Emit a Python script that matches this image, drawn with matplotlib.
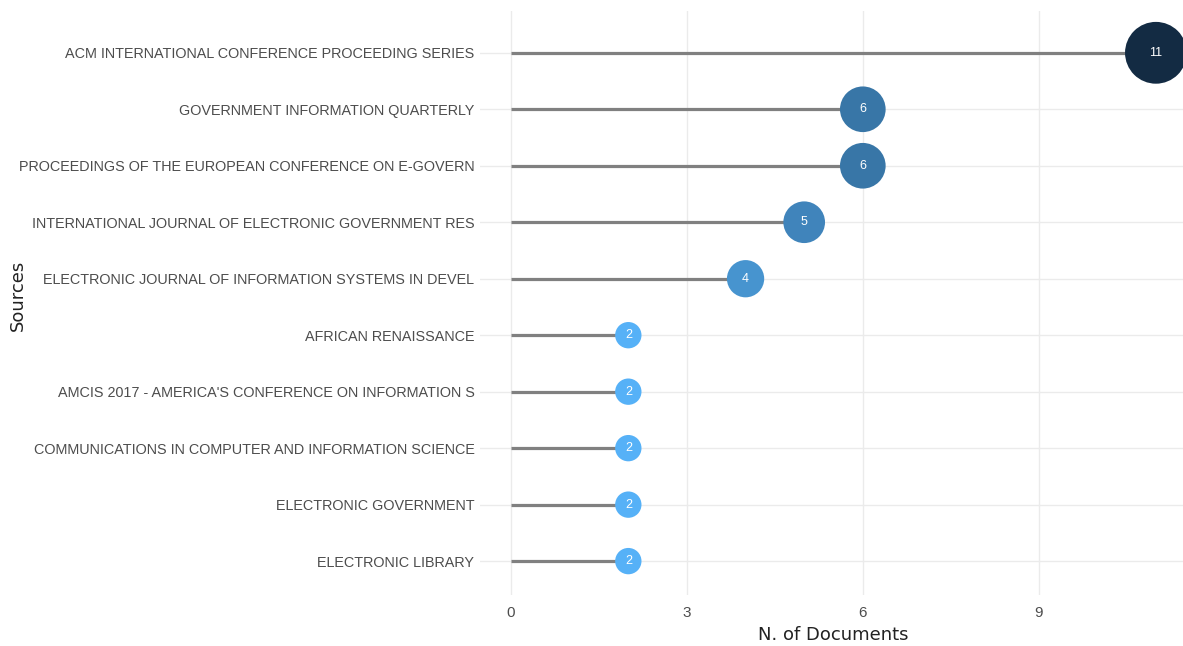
import matplotlib.pyplot as plt
from matplotlib.colors import LinearSegmentedColormap
import numpy as np

# source names, top to bottom
sources = [
    "ACM INTERNATIONAL CONFERENCE PROCEEDING SERIES",
    "GOVERNMENT INFORMATION QUARTERLY",
    "PROCEEDINGS OF THE EUROPEAN CONFERENCE ON E-GOVERN",
    "INTERNATIONAL JOURNAL OF ELECTRONIC GOVERNMENT RES",
    "ELECTRONIC JOURNAL OF INFORMATION SYSTEMS IN DEVEL",
    "AFRICAN RENAISSANCE",
    "AMCIS 2017 - AMERICA'S CONFERENCE ON INFORMATION S",
    "COMMUNICATIONS IN COMPUTER AND INFORMATION SCIENCE",
    "ELECTRONIC GOVERNMENT",
    "ELECTRONIC LIBRARY",
]
n_docs = [11, 6, 6, 5, 4, 2, 2, 2, 2, 2]
x_ticks = [0, 3, 6, 9]

W, H = 1183, 646
fig = plt.figure(figsize=(W / 100, H / 100), dpi=100)
ax = fig.add_axes([480 / W, 1 - 595 / H, (1187 - 480) / W, (595 - 11) / H])

# ggplot-like default gradient (light -> dark)
cmap = LinearSegmentedColormap.from_list("gg", ["#56B1F7", "#132B43"])
vals = np.array(n_docs)
norm = (vals - vals.min()) / (vals.max() - vals.min())
ypos = np.arange(len(sources))

for spine in ax.spines.values():
    spine.set_visible(False)
ax.set_axisbelow(True)
ax.grid(True, color="#EBEBEB", linewidth=1.0)

ax.hlines(ypos, 0, vals, color="#808080", linewidth=2.3, zorder=2)
ax.scatter(vals, ypos, s=vals * 180, c=cmap(norm), edgecolors="none", zorder=3)
for v, y in zip(vals, ypos):
    ax.text(v, y, str(v), color="white", ha="center", va="center",
            fontsize=9, family="Liberation Sans", zorder=4)

ax.set_xlim(-0.53, 11.53)
ax.set_ylim(9.6, -0.74)
ax.set_xticks(x_ticks)
ax.set_yticks(ypos)
ax.set_yticklabels(sources)
ax.tick_params(axis="both", length=0, colors="#4D4D4D")
ax.tick_params(axis="y", pad=4)
ax.tick_params(axis="x", pad=8)

label_fonts = ["Liberation Sans Narrow", "DejaVu Sans Condensed", "Liberation Sans"]
for lab in ax.get_yticklabels() + ax.get_xticklabels():
    lab.set_family(label_fonts)
    lab.set_fontsize(11)

# shrink the source labels so the longest one is as wide as in the original
fig.canvas.draw()
r = fig.canvas.get_renderer()
widest = max(t.get_window_extent(r).width for t in ax.get_yticklabels())
size = min(11, 11 * 458 / widest)
for lab in ax.get_yticklabels():
    lab.set_fontsize(size)

ax.set_xlabel("N. of Documents", fontsize=13, color="#222222", labelpad=4)
fig.text(18 / W, 1 - 295 / H, "Sources", rotation=90, fontsize=13,
         color="#222222", ha="center", va="center")

fig.savefig("out.png", dpi=100, facecolor="white")
